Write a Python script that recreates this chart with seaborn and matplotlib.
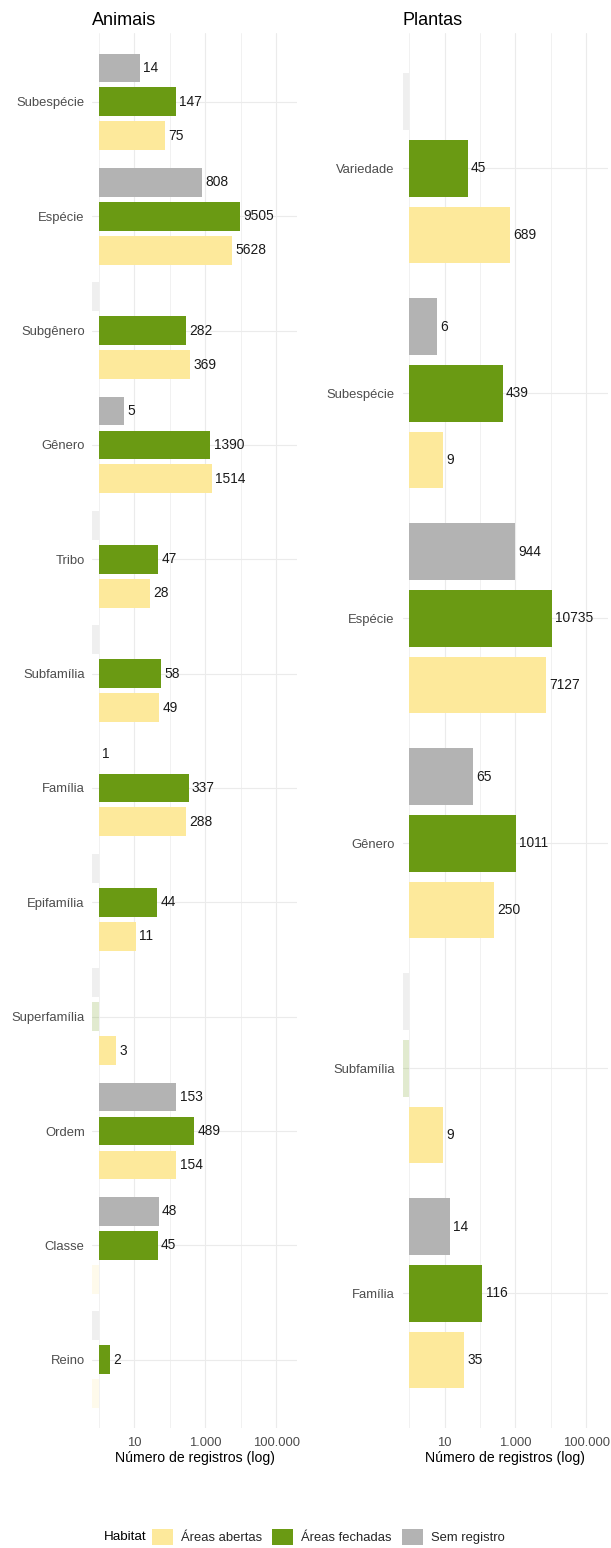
import numpy as np
import pandas as pd
import matplotlib
matplotlib.use("Agg")
import matplotlib.pyplot as plt
from matplotlib.patches import Patch
import seaborn as sns

# Registros por nível taxonômico e habitat (0 = nenhum registro)
habitats = ["Áreas abertas", "Áreas fechadas", "Sem registro"]
cores = {"Áreas abertas": "#FDE99B", "Áreas fechadas": "#6A9A13", "Sem registro": "#B3B3B3"}

animais_niveis = ["Subespécie", "Espécie", "Subgênero", "Gênero", "Tribo", "Subfamília",
                  "Família", "Epifamília", "Superfamília", "Ordem", "Classe", "Reino"]
animais_abertas = [75, 5628, 369, 1514, 28, 49, 288, 11, 3, 154, 0, 0]
animais_fechadas = [147, 9505, 282, 1390, 47, 58, 337, 44, 0, 489, 45, 2]
animais_sem = [14, 808, 0, 5, 0, 0, 1, 0, 0, 153, 48, 0]

plantas_niveis = ["Variedade", "Subespécie", "Espécie", "Gênero", "Subfamília", "Família"]
plantas_abertas = [689, 9, 7127, 250, 9, 35]
plantas_fechadas = [45, 439, 10735, 1011, 0, 116]
plantas_sem = [0, 6, 944, 65, 0, 14]

xtick_pos = [1, 3, 5]
xtick_lab = ["10", "1.000", "100.000"]

# Limites do eixo em escala log10; zeros ficam encostados na borda esquerda
XMIN, XMAX = -0.19, 5.6
ordem_hue = ["Sem registro", "Áreas fechadas", "Áreas abertas"]
DODGE_W = 0.89

FONT = ["Liberation Sans", "DejaVu Sans"]
sns.set_theme(style="white")
plt.rcParams["font.family"] = FONT

TXT_AXIS = "#4D4D4D"


def montar(niveis, abertas, fechadas, sem):
    linhas = []
    for hab, vals in zip(habitats, [abertas, fechadas, sem]):
        for nv, n in zip(niveis, vals):
            linhas.append({"nivel": nv, "habitat": hab, "n": n})
    df = pd.DataFrame(linhas)
    df["pos"] = np.where(df["n"] > 0, np.log10(df["n"].clip(lower=1)), XMIN)
    return df


def painel(ax, titulo, niveis, abertas, fechadas, sem):
    df = montar(niveis, abertas, fechadas, sem)
    sns.barplot(data=df, y="nivel", x="pos", hue="habitat", order=niveis,
                hue_order=ordem_hue, palette=cores, orient="h", width=DODGE_W,
                gap=0.15, saturation=1, linewidth=0, errorbar=None,
                legend=False, ax=ax)
    lookup = {(r.nivel, r.habitat): r.n for r in df.itertuples()}
    slot = DODGE_W / len(ordem_hue)
    for cont in ax.containers:
        rotulos = []
        for p in cont.patches:
            yc = p.get_y() + p.get_height() / 2
            i = int(round(yc))
            h = int(round((yc - i) / slot)) + 1
            n = lookup[(niveis[i], ordem_hue[h])]
            if n == 0:
                p.set_alpha(0.2)
                rotulos.append("")
            else:
                rotulos.append(str(n))
        ax.bar_label(cont, labels=rotulos, padding=2.4, fontsize=9.9,
                     color="#1A1A1A")

    ax.set_xlim(XMIN, XMAX)
    ax.set_ylim(len(niveis) - 0.4, -0.6)
    ax.set_xticks(xtick_pos)
    ax.set_xticklabels(xtick_lab)
    ax.set_xticks([0, 2, 4], minor=True)
    ax.set_axisbelow(True)
    ax.grid(which="major", axis="both", color="#EBEBEB", lw=0.8)
    ax.grid(which="minor", axis="x", color="#EFEFEF", lw=0.6)
    for s in ax.spines.values():
        s.set_visible(False)
    ax.tick_params(axis="both", which="both", length=0)
    ax.tick_params(axis="y", pad=5.5, labelsize=9.4, labelcolor=TXT_AXIS)
    ax.tick_params(axis="x", pad=6.2, labelsize=9.4, labelcolor=TXT_AXIS)
    ax.set_ylabel("")
    ax.set_xlabel("Número de registros (log)", fontsize=10.1, color="black",
                  labelpad=1.8)
    ax.set_title(titulo, loc="left", fontsize=13, color="black", pad=5.8)


W, H = 611, 1548
fig = plt.figure(figsize=(W / 100, H / 100), dpi=100)
fig.patch.set_facecolor("white")

top_px, bot_px = 33.3, 1428.3
b = 1 - bot_px / H
h = (bot_px - top_px) / H
ax1 = fig.add_axes([92.3 / W, b, 205 / W, h])
ax2 = fig.add_axes([402.5 / W, b, 205 / W, h])

painel(ax1, "Animais", animais_niveis, animais_abertas, animais_fechadas, animais_sem)
painel(ax2, "Plantas", plantas_niveis, plantas_abertas, plantas_fechadas, plantas_sem)

# Legenda inferior
y_leg = 1 - 1537 / H
fig.text(104 / W, y_leg, "Habitat", ha="left", va="center", fontsize=9.6,
         color="black")
fig.legend(handles=[Patch(facecolor=cores[hb], lw=0) for hb in habitats],
           labels=habitats, loc="center left", bbox_to_anchor=(152 / W, y_leg),
           ncol=3, frameon=False, fontsize=9.4, handlelength=1.6,
           handleheight=1.45, handletextpad=0.6, columnspacing=0.8,
           borderpad=0, borderaxespad=0)

fig.savefig("out.png", dpi=100)
